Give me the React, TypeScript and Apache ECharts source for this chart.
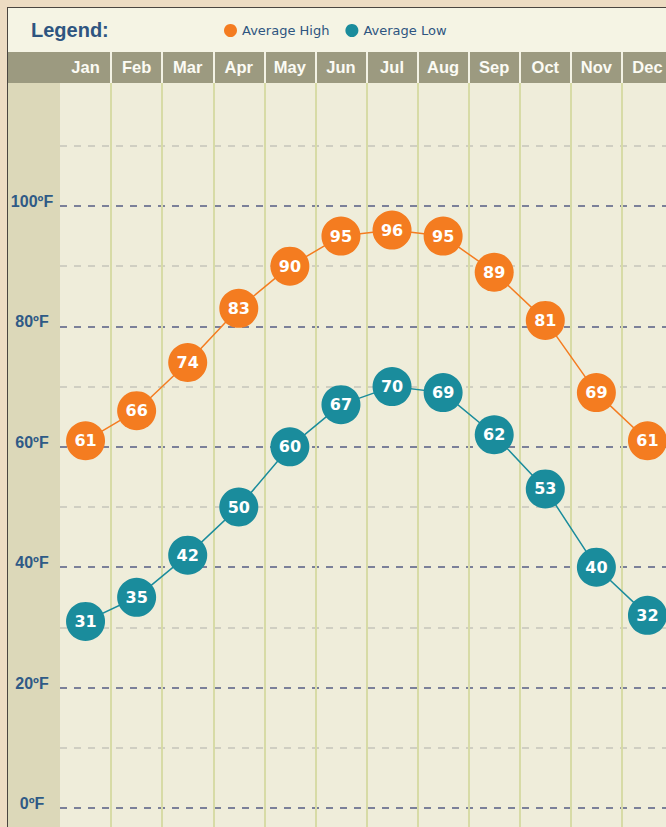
import React, { useEffect, useRef } from "react";
import * as echarts from "echarts";

const months = ["Jan", "Feb", "Mar", "Apr", "May", "Jun", "Jul", "Aug", "Sep", "Oct", "Nov", "Dec"];
const avgHigh = [61, 66, 74, 83, 90, 95, 96, 95, 89, 81, 69, 61];
const avgLow = [31, 35, 42, 50, 60, 67, 70, 69, 62, 53, 40, 32];
const yTicks = [0, 20, 40, 60, 80, 100, 120];
const seriesNames = ["Average High", "Average Low"];

const ORANGE = "#f47c20";
const TEAL = "#1a8c9c";
const LABEL_BLUE = "#2f5a86";
const SANS = "'Liberation Sans', Arial, sans-serif";
const VERD = "'DejaVu Sans', Verdana, sans-serif";
const CHART_W = 690;

export default function App() {
  const ref = useRef<HTMLDivElement>(null);
  useEffect(() => {
    if (!ref.current) return;
    const chart = echarts.init(ref.current, null, { renderer: "svg" });
    const majorColors = yTicks.map((t, i) => (i === yTicks.length - 1 ? "rgba(0,0,0,0)" : "#7b8099"));
    const sepColors = months.map((m, i) => (i === 0 ? "rgba(0,0,0,0)" : "#f3f2e4"));
    const stripeColors = months.map((m, i) => (i === 0 ? "rgba(0,0,0,0)" : "#d7dba6"));
    const gridRight = CHART_W - 60 - 613;
    const seriesFor = (name: string, data: number[], color: string) => ({
      name,
      type: "line",
      xAxisIndex: 0,
      yAxisIndex: 0,
      data,
      symbol: "circle",
      symbolSize: 39,
      showSymbol: true,
      showAllSymbol: true,
      itemStyle: { color },
      lineStyle: { color, width: 1.5 },
      label: {
        show: true,
        position: "inside",
        color: "#ffffff",
        fontWeight: "bold",
        fontSize: 16,
        fontFamily: VERD,
      },
      z: 3,
    });
    const option: any = {
      animation: false,
      backgroundColor: "#eddcc3",
      graphic: {
        elements: [
          { type: "rect", z: -10, shape: { x: 7, y: 7, width: 700, height: 821 }, style: { fill: "#4a4540" } },
          { type: "rect", z: -9, shape: { x: 8, y: 8, width: 700, height: 44 }, style: { fill: "#f5f4e4" } },
          { type: "rect", z: -9, shape: { x: 8, y: 52, width: 700, height: 31 }, style: { fill: "#9c9a80" } },
          { type: "rect", z: -9, shape: { x: 8, y: 83, width: 52, height: 745 }, style: { fill: "#dcd8b9" } },
          { type: "rect", z: -9, shape: { x: 60, y: 83, width: 700, height: 745 }, style: { fill: "#efedda" } },
          {
            type: "text",
            z: 10,
            left: 31,
            top: 20,
            style: { text: "Legend:", fill: "#2e5580", font: `bold 20px ${SANS}` },
          },
        ],
      },
      legend: {
        data: seriesNames,
        icon: "circle",
        itemWidth: 13,
        itemHeight: 13,
        itemGap: 16,
        left: 219,
        top: 19,
        textStyle: { color: "#2e5580", fontSize: 13, fontFamily: VERD },
      },
      grid: [
        { left: 60, right: gridRight, top: 85.6, bottom: 19 },
        { left: 60, right: gridRight, top: 83, bottom: 0 },
        { left: 60, right: gridRight, top: 52, height: 31 },
      ],
      xAxis: [
        {
          type: "category",
          gridIndex: 0,
          data: months,
          boundaryGap: true,
          axisLine: { show: false },
          axisTick: { show: false },
          axisLabel: { show: false },
          splitLine: { show: false },
        },
        {
          type: "category",
          gridIndex: 1,
          data: months,
          boundaryGap: true,
          axisLine: { show: false },
          axisTick: { show: false },
          axisLabel: { show: false },
          splitLine: { show: true, lineStyle: { color: stripeColors, width: 2 } },
        },
        {
          type: "category",
          gridIndex: 2,
          data: months,
          boundaryGap: true,
          axisLine: { show: false },
          axisTick: { show: false },
          axisLabel: {
            inside: true,
            margin: 16,
            verticalAlign: "middle",
            color: "#fbfbf4",
            fontWeight: "bold",
            fontSize: 16.5,
            fontFamily: SANS,
          },
          splitLine: { show: true, lineStyle: { color: sepColors, width: 2 } },
        },
      ],
      yAxis: [
        {
          type: "value",
          gridIndex: 0,
          min: 0,
          max: 120,
          interval: 20,
          axisLine: { show: false },
          axisTick: { show: false },
          axisLabel: {
            formatter: (v: number) => (v === 120 ? "" : v + "ºF"),
            color: LABEL_BLUE,
            fontWeight: "bold",
            fontSize: 16,
            fontFamily: SANS,
            align: "center",
            margin: 28,
            verticalAlign: "bottom",
            lineHeight: 9,
          },
          splitLine: { show: true, lineStyle: { color: majorColors, width: 2, type: [7, 7] } },
          minorTick: { show: false, splitNumber: 2 },
          minorSplitLine: { show: true, lineStyle: { color: "#d0cfc2", width: 2, type: [7, 7] } },
        },
        { type: "value", gridIndex: 1, show: false },
        { type: "value", gridIndex: 2, show: false },
      ],
      series: [seriesFor(seriesNames[0], avgHigh, ORANGE), seriesFor(seriesNames[1], avgLow, TEAL)],
    };
    chart.setOption(option);
    return () => chart.dispose();
  }, []);
  return (
    <div style={{ position: "fixed", left: 0, top: 0, width: 666, height: 827, overflow: "hidden" }}>
      <div ref={ref} style={{ width: CHART_W, height: 827 }} />
    </div>
  );
}
